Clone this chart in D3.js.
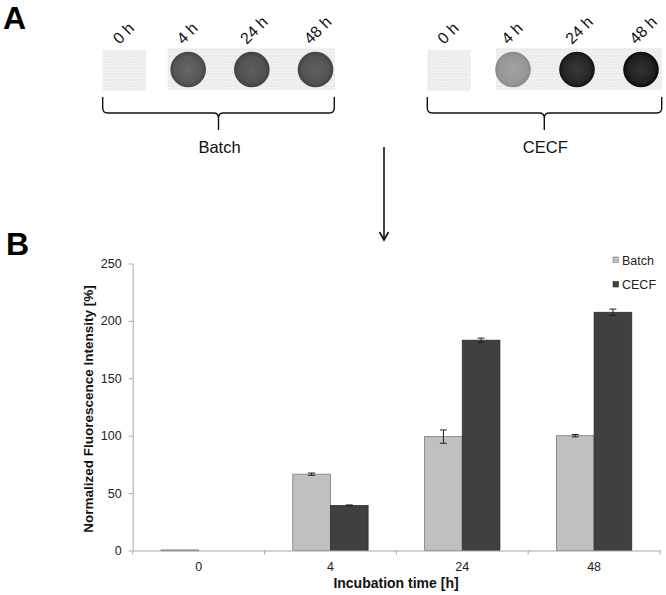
<!DOCTYPE html>
<html>
<head>
<meta charset="utf-8">
<script src="https://cdn.jsdelivr.net/npm/d3@7"></script>
<style>
  html, body { margin: 0; padding: 0; background: #fff; }
  svg { display: block; font-family: Arial, "Liberation Sans", sans-serif; }
</style>
</head>
<body>
<svg id="chart" width="666" height="595"></svg>
<script>
// ---------- DATA ----------
const categories = ["0", "4", "24", "48"];
const seriesNames = ["Batch", "CECF"];
const batchValues = [0.5, 66.5, 99.2, 100];
const batchErrors = [0, 1.0, 5.8, 1.0];
const cecfValues = [0, 39.2, 183.2, 207.5];
const cecfErrors = [0, 0.5, 1.8, 2.8];
const yTicks = [0, 50, 100, 150, 200, 250];
const dotTimeLabels = ["0 h", "4 h", "24 h", "48 h"];
const dotGroups = ["Batch", "CECF"];
const xTitle = "Incubation time [h]";
const yTitle = "Normalized Fluorescence Intensity [%]";

// ---------- STYLES ----------
const barFill = { Batch: "#c0c0c0", CECF: "#404040" };
const barStroke = { Batch: "#7a7a7a", CECF: "#2e2e2e" };
// dot colors [edge, centre] per group and time (null = no spot)
const dotStyle = {
  Batch: [null, ["#444444", "#666666"], ["#404040", "#5e5e5e"], ["#424242", "#606060"]],
  CECF:  [null, ["#8a8a8a", "#a2a2a2"], ["#121212", "#383838"], ["#080808", "#333333"]]
};

const svg = d3.select("#chart");
const defs = svg.append("defs");

// speckle pattern for membrane background
const pat = defs.append("pattern").attr("id", "speck").attr("width", 6).attr("height", 6)
  .attr("patternUnits", "userSpaceOnUse");
pat.append("rect").attr("width", 6).attr("height", 6).attr("fill", "#f1f1f1");
pat.append("path").attr("d", "M0 1 L2 3 L4 1 L6 3 M0 5 L2 4 M3 6 L5 4")
  .attr("stroke", "#e3e3e3").attr("stroke-width", 0.8).attr("fill", "none");

// ---------- PANEL A ----------
svg.append("text").attr("x", 3).attr("y", 29).attr("font-size", 32).attr("font-weight", "bold")
  .text("A");

const groupLayout = {
  Batch: { range: [124.5, 315.5], blank: [102.7, 146], strip: [167.7, 335], brace: [102.7, 334.3] },
  CECF:  { range: [449, 641],     blank: [427.3, 470.7], strip: [496, 661.7], brace: [427.3, 661.7] }
};

dotGroups.forEach((g, gi) => {
  const L = groupLayout[g];
  const px = d3.scalePoint().domain(dotTimeLabels).range(L.range);
  const G = svg.append("g");
  G.append("rect").attr("x", L.blank[0]).attr("y", 50).attr("width", L.blank[1] - L.blank[0])
    .attr("height", 41).attr("fill", "url(#speck)");
  G.append("rect").attr("x", L.strip[0]).attr("y", 48).attr("width", L.strip[1] - L.strip[0])
    .attr("height", 42).attr("fill", "url(#speck)");

  dotTimeLabels.forEach((t, ti) => {
    const st = dotStyle[g][ti];
    const cx = px(t);
    if (st) {
      const gid = "grad" + gi + "_" + ti;
      const rg = defs.append("radialGradient").attr("id", gid);
      rg.append("stop").attr("offset", "0%").attr("stop-color", st[1]);
      rg.append("stop").attr("offset", "75%").attr("stop-color", d3.interpolateRgb(st[1], st[0])(0.45));
      rg.append("stop").attr("offset", "100%").attr("stop-color", st[0]);
      G.append("circle").attr("cx", cx).attr("cy", 69.5).attr("r", 17.8)
        .attr("fill", "url(#" + gid + ")");
    }
    G.append("text")
      .attr("transform", `translate(${cx - 5},45) rotate(-45)`)
      .attr("font-size", 16).attr("fill", "#111")
      .text(t);
  });

  // curly brace
  const x0 = L.brace[0], x1 = L.brace[1], xm = (x0 + x1) / 2 + (g === "Batch" ? 0 : -0.2);
  const yTop = 97, yL = 113, yTip = 130;
  const path = `M${x0},${yTop} L${x0},${yL - 5} Q${x0},${yL} ${x0 + 5},${yL} L${xm - 5},${yL} Q${xm},${yL} ${xm},${yL + 5} L${xm},${yTip}` +
    ` M${xm},${yL + 5} Q${xm},${yL} ${xm + 5},${yL} L${x1 - 5},${yL} Q${x1},${yL} ${x1},${yL - 5} L${x1},${yTop}`;
  G.append("path").attr("d", path).attr("fill", "none").attr("stroke", "#111").attr("stroke-width", 1.4);
  G.append("text").attr("x", xm + 1).attr("y", 153).attr("text-anchor", "middle")
    .attr("font-size", 16.5).attr("fill", "#111").text(g);
});

// arrow
svg.append("line").attr("x1", 384).attr("y1", 147).attr("x2", 384).attr("y2", 240)
  .attr("stroke", "#111").attr("stroke-width", 1.6);
svg.append("path").attr("d", "M379.5,232 L384,240 L388.5,232").attr("fill", "none")
  .attr("stroke", "#111").attr("stroke-width", 1.6);

// ---------- PANEL B ----------
svg.append("text").attr("x", 6).attr("y", 255).attr("font-size", 32).attr("font-weight", "bold")
  .text("B");

const x = d3.scaleBand().domain(categories).range([132.7, 660]).paddingInner(0).paddingOuter(0);
const groupW = x.bandwidth() * 2 / 3.5;
const xs = d3.scaleBand().domain(seriesNames).range([0, groupW]);
const y = d3.scaleLinear().domain([0, 250]).range([550.5, 263.5]);

const axisColor = "#a8a8a8";

// y axis
const yAxis = svg.append("g").attr("transform", "translate(132.7,0)")
  .call(d3.axisLeft(y).tickValues(yTicks).tickSize(4).tickPadding(7).tickSizeOuter(0));
yAxis.select(".domain").attr("stroke", axisColor);
yAxis.selectAll(".tick line").attr("stroke", axisColor);
yAxis.selectAll(".tick text").attr("font-size", 12.5).attr("fill", "#222")
  .attr("font-family", "Arial, 'Liberation Sans', sans-serif");

// bars
const seriesData = seriesNames.map((s, si) => ({
  name: s,
  values: categories.map((c, i) => ({
    cat: c,
    v: si === 0 ? batchValues[i] : cecfValues[i],
    e: si === 0 ? batchErrors[i] : cecfErrors[i]
  }))
}));

const offset = (x.bandwidth() - groupW) / 2;
seriesData.forEach(s => {
  const g = svg.append("g");
  g.selectAll("rect").data(s.values.filter(d => d.v > 0)).join("rect")
    .attr("x", d => x(d.cat) + offset + xs(s.name))
    .attr("y", d => y(d.v))
    .attr("width", xs.bandwidth())
    .attr("height", d => Math.max(0.8, y(0) - y(d.v)))
    .attr("fill", barFill[s.name])
    .attr("stroke", barStroke[s.name])
    .attr("stroke-width", 0.8);
  // error bars
  const eb = s.values.filter(d => d.e > 0);
  const cxf = d => x(d.cat) + offset + xs(s.name) + xs.bandwidth() / 2;
  g.selectAll("line.v").data(eb).join("line").attr("class", "v")
    .attr("x1", cxf).attr("x2", cxf).attr("y1", d => y(d.v + d.e)).attr("y2", d => y(d.v - d.e))
    .attr("stroke", "#222").attr("stroke-width", 1);
  g.selectAll("line.t").data(eb).join("line").attr("class", "t")
    .attr("x1", d => cxf(d) - 3.5).attr("x2", d => cxf(d) + 3.5)
    .attr("y1", d => y(d.v + d.e)).attr("y2", d => y(d.v + d.e))
    .attr("stroke", "#222").attr("stroke-width", 1);
  g.selectAll("line.b").data(eb).join("line").attr("class", "b")
    .attr("x1", d => cxf(d) - 3.5).attr("x2", d => cxf(d) + 3.5)
    .attr("y1", d => y(d.v - d.e)).attr("y2", d => y(d.v - d.e))
    .attr("stroke", "#222").attr("stroke-width", 1);
});

// x axis
const xAxis = svg.append("g").attr("transform", `translate(0,${y(0)})`)
  .call(d3.axisBottom(x).tickSize(0).tickPadding(12).tickSizeOuter(0));
xAxis.select(".domain").attr("stroke", axisColor);
xAxis.selectAll(".tick text").attr("font-size", 12.5).attr("fill", "#222")
  .attr("font-family", "Arial, 'Liberation Sans', sans-serif");
const boundaries = categories.map(c => x(c)).concat([x(categories[categories.length - 1]) + x.bandwidth()]);
xAxis.selectAll("line.bnd").data(boundaries).join("line").attr("class", "bnd")
  .attr("x1", d => d).attr("x2", d => d).attr("y1", 0).attr("y2", 4)
  .attr("stroke", axisColor);

// titles
svg.append("text").attr("x", 396).attr("y", 588).attr("text-anchor", "middle")
  .attr("font-size", 14).attr("font-weight", "bold").attr("fill", "#111").text(xTitle);
svg.append("text").attr("transform", "translate(93,409) rotate(-90)").attr("text-anchor", "middle")
  .attr("font-size", 13.5).attr("font-weight", "bold").attr("fill", "#111").text(yTitle);

// legend
const legend = svg.append("g");
seriesNames.forEach((s, i) => {
  const ly = 260 + i * 24.5;
  legend.append("rect").attr("x", 613).attr("y", ly - 3).attr("width", 5.5).attr("height", 5.5)
    .attr("fill", barFill[s]).attr("stroke", barStroke[s]).attr("stroke-width", 0.6);
  legend.append("text").attr("x", 622).attr("y", ly + 4.5).attr("font-size", 12.5).attr("fill", "#222").text(s);
});
</script>
</body>
</html>
